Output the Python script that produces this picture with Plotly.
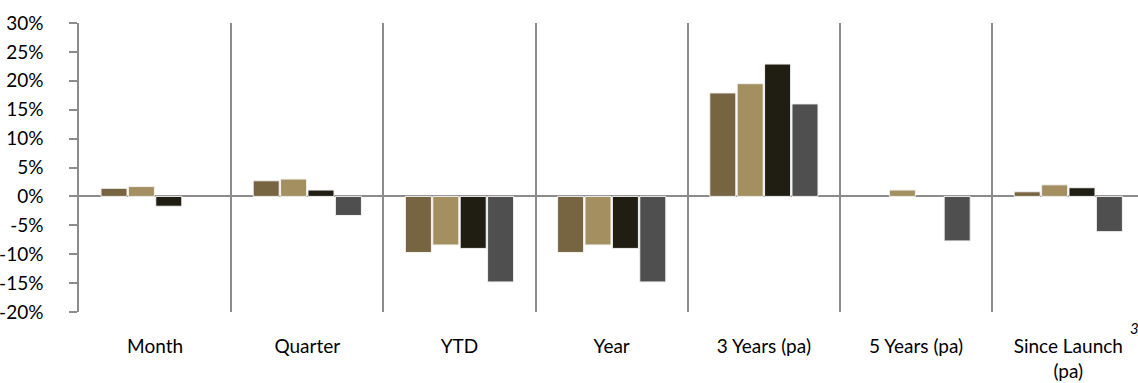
import plotly.graph_objects as go

categories = ["Month", "Quarter", "YTD", "Year", "3 Years (pa)", "5 Years (pa)", "Since Launch<br>(pa)"]
series_a = [1.4, 2.7, -9.7, -9.7, 17.9, None, 0.8]
series_b = [1.7, 3.0, -8.4, -8.4, 19.5, 1.1, 2.0]
series_c = [-1.7, 1.1, -9.0, -9.0, 22.9, None, 1.5]
series_d = [None, -3.3, -14.8, -14.8, 16.0, -7.7, -6.1]
series_names = ["Series A", "Series B", "Series C", "Series D"]
colors = ["#776542", "#A38F60", "#201E13", "#4F4F4F"]
y_ticks = [-20, -15, -10, -5, 0, 5, 10, 15, 20, 25, 30]
y_tick_labels = ["-20%", "-15%", "-10%", "-5%", "0%", "5%", "10%", "15%", "20%", "25%", "30%"]

FONT = "Lato"
FS = 19

fig = go.Figure()
for name, vals, col in zip(series_names, [series_a, series_b, series_c, series_d], colors):
    fig.add_trace(go.Bar(
        x=categories, y=vals, name=name,
        marker=dict(color=col, line=dict(color="#f2f2f2", width=1)),
    ))

fig.update_layout(
    width=1138, height=383,
    margin=dict(l=79, r=0, t=23, b=71),
    paper_bgcolor="white", plot_bgcolor="white",
    barmode="group", bargap=0.28, bargroupgap=0.05,
    showlegend=False,
    font=dict(family=FONT, size=FS, color="#000000"),
)
fig.update_xaxes(
    type="category",
    range=[-0.5, 6.458],
    tickson="boundaries",
    showgrid=True, gridcolor="#8c8c8c", gridwidth=1.5,
    ticks="", showline=False, zeroline=False,
    tickfont=dict(family=FONT, size=FS, color="#000000"),
    ticklabelstandoff=21,
)
fig.update_yaxes(
    range=[-20, 30],
    tickvals=y_ticks, ticktext=y_tick_labels,
    showgrid=False,
    zeroline=True, zerolinecolor="#8c8c8c", zerolinewidth=1.5,
    showline=True, linecolor="#8c8c8c", linewidth=1.5,
    ticks="outside", ticklen=8, tickcolor="#8c8c8c", tickwidth=1.5,
    tickfont=dict(family=FONT, size=FS, color="#000000"),
    ticklabelstandoff=22,
)
fig.add_annotation(
    text="<i>3</i>",
    x=(1134 - 79) / (1138 - 79), y=(312 - 328) / (312 - 23),
    xref="paper", yref="paper", xanchor="center", yanchor="middle",
    showarrow=False, font=dict(family=FONT, size=15, color="#000000"),
)
fig.write_html("out.html")
